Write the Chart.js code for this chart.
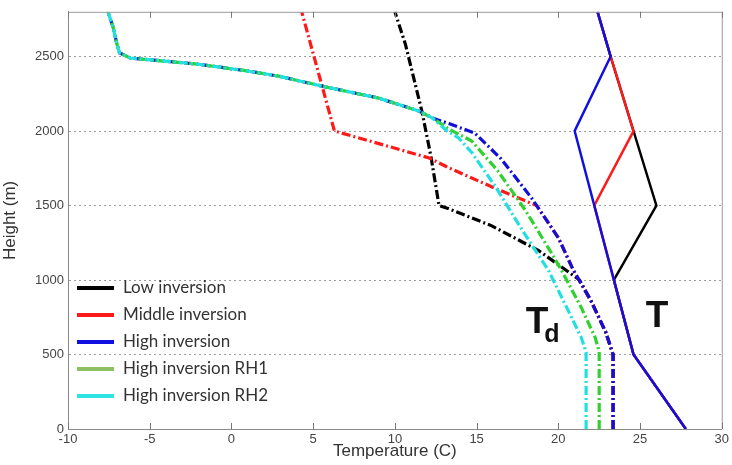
<!DOCTYPE html>
<html>
<head>
<meta charset="utf-8">
<script src="https://cdn.jsdelivr.net/npm/chart.js@4.4.0/dist/chart.umd.min.js"></script>
<style>
  html, body { margin: 0; padding: 0; background: #fff; }
  #wrap { width: 732px; height: 465px; }
</style>
</head>
<body>
<div id="wrap"><canvas id="myChart" width="732" height="465"></canvas></div>
<script>
// Temperature profiles (solid)
const tHeights = [0, 500, 1000, 1500, 2000, 2500, 2800];
const tLow  = [27.8, 24.6, 23.4, 26.0, 24.6, 23.2, 22.4];
const tMid  = [27.8, 24.6, 23.4, 22.2, 24.6, 23.2, 22.4];
const tHigh = [27.8, 24.6, 23.4, 22.2, 21.0, 23.2, 22.4];

// Dew point profiles (dash-dot)
const topZ = [2134, 2221, 2301, 2368, 2401, 2448, 2490, 2525, 2580, 2700, 2800];
const topT = [11.46, 9.0, 5.55, 2.9, 1.1, -2.0, -6.2, -6.85, -7.0, -7.25, -7.56];

const tdHighZ = [0, 500, 650, 860, 1070, 1284, 1552, 1813, 1985, 2050, 2087].concat(topZ);
const tdHighT = [23.35, 23.35, 22.9, 22.0, 20.9, 20.0, 18.35, 16.5, 14.9, 13.3, 12.3].concat(topT);

const tdRh1Z = [0, 520, 615, 816, 1064, 1177, 1465, 1732, 1933, 2013, 2087].concat(topZ);
const tdRh1T = [22.5, 22.5, 22.25, 21.4, 20.2, 19.6, 18.0, 16.3, 14.7, 13.3, 12.3].concat(topT);

const tdRh2Z = [0, 515, 615, 796, 1064, 1351, 1619, 1856, 1953, 2000, 2087].concat(topZ);
const tdRh2T = [21.7, 21.7, 21.4, 20.6, 19.4, 17.7, 16.2, 14.7, 13.9, 13.2, 12.3].concat(topT);

const tdLowZ = [0, 500, 650, 860, 1000, 1197, 1365, 1478, 1500, 1833, 2134, 2580, 2800];
const tdLowT = [23.35, 23.35, 22.9, 22.0, 21.3, 18.8, 15.9, 13.3, 12.7, 12.2, 11.65, 10.65, 10.0];

const tdMidZ = [0, 500, 650, 860, 1070, 1284, 1500, 1612, 1753, 1819, 2000, 2800];
const tdMidT = [23.35, 23.35, 22.9, 22.0, 20.9, 20.0, 18.67, 16.2, 13.3, 12.1, 6.3, 4.3];

const legendLabels = ['Low inversion', 'Middle inversion', 'High inversion', 'High inversion RH1', 'High inversion RH2'];
const legendColors = ['#000000', '#ff1a1a', '#1010e0', '#8cc062', '#2ee3e3'];

const xTicks = [-10, -5, 0, 5, 10, 15, 20, 25, 30];
const yTicks = [0, 500, 1000, 1500, 2000, 2500];

function pts(xs, zs) {
  return xs.map(function(v, i) { return { x: v, y: zs[i] }; });
}

const dashDot = [9, 3, 2, 3];

function tdSet(xs, zs, color) {
  return {
    data: pts(xs, zs), borderColor: color, borderWidth: 3.2,
    borderDash: dashDot, pointRadius: 0, tension: 0, fill: false
  };
}
function tSet(xs, zs, color) {
  return {
    data: pts(xs, zs), borderColor: color, borderWidth: 2.5,
    pointRadius: 0, tension: 0, fill: false
  };
}

// index 0 is drawn on top
const datasets = [
  tSet(tHigh, tHeights, '#1010e0'),
  tSet(tMid, tHeights, '#ff1a1a'),
  tSet(tLow, tHeights, '#000000'),
  tdSet(tdRh2T, tdRh2Z, '#22e0e0'),
  tdSet(tdRh1T, tdRh1Z, '#2ed12e'),
  tdSet(tdHighT, tdHighZ, '#1010d8'),
  tdSet(tdMidT, tdMidZ, '#ff1a1a'),
  tdSet(tdLowT, tdLowZ, '#000000')
];

// frame, inward ticks, legend box and T / Td labels
const extras = {
  id: 'extras',
  afterDraw(chart) {
    const c = chart.ctx, a = chart.chartArea;
    const xs = chart.scales.x, ys = chart.scales.y;
    c.save();
    c.strokeStyle = '#9a9a9a';
    c.lineWidth = 1;
    c.beginPath();
    c.moveTo(a.left, a.top + 0.5); c.lineTo(a.right + 0.5, a.top + 0.5);
    c.lineTo(a.right + 0.5, a.bottom);
    c.stroke();
    c.strokeStyle = '#777';
    xTicks.forEach(function(v) {
      const px = Math.round(xs.getPixelForValue(v)) + 0.5;
      c.beginPath();
      c.moveTo(px, a.bottom); c.lineTo(px, a.bottom - 6);
      c.moveTo(px, a.top); c.lineTo(px, a.top + 6);
      c.stroke();
    });

    // legend
    c.font = '17px Lato';
    c.textBaseline = 'middle';
    legendLabels.forEach(function(lab, i) {
      const y = a.bottom - 141 + i * 27;
      c.fillStyle = legendColors[i];
      c.fillRect(a.left + 9, y - 2, 37, 4);
      c.fillStyle = '#333';
      c.fillText(lab, a.left + 55, y);
    });

    // T_d and T
    c.fillStyle = '#111';
    c.textBaseline = 'alphabetic';
    c.font = 'bold 37px "Liberation Sans"';
    const tdX = xs.getPixelForValue(18.0), tdY = ys.getPixelForValue(642);
    c.fillText('T', tdX, tdY);
    const w = c.measureText('T').width;
    c.font = 'bold 25px "Liberation Sans"';
    c.fillText('d', tdX + w - 4, tdY + 9);
    c.font = 'bold 37px "Liberation Sans"';
    c.fillText('T', xs.getPixelForValue(25.35), ys.getPixelForValue(682));
    c.restore();
  }
};

const tickFont = { family: '"Liberation Sans"', size: 13 };
const ctx = document.getElementById('myChart').getContext('2d');
const myChart = new Chart(ctx, {
  type: 'line',
  data: { datasets: datasets },
  options: {
    responsive: false,
    animation: false,
    layout: { padding: { top: 11, right: 8, left: 0, bottom: 0 } },
    plugins: { legend: { display: false }, tooltip: { enabled: false } },
    scales: {
      x: {
        type: 'linear', min: -10, max: 30,
        ticks: { stepSize: 5, font: tickFont, color: '#444', padding: 3, maxRotation: 0,
                 callback: function(v) { return String(v); } },
        grid: { display: false, drawTicks: false },
        border: { color: '#8a8a8a' },
        title: { display: true, text: 'Temperature (C)', color: '#333',
                 font: { family: '"Liberation Sans"', size: 17 }, padding: { top: 0, bottom: 3 } },
        afterFit: function(s) { s.height = 36; }
      },
      y: {
        type: 'linear', min: 0, max: 2800,
        ticks: { font: tickFont, color: '#444', padding: 4, autoSkip: false,
                 callback: function(v) { return String(v); } },
        afterBuildTicks: function(s) { s.ticks = yTicks.map(function(v) { return { value: v }; }); },
        grid: { color: '#9d9d9d', drawTicks: false },
        border: { color: '#8a8a8a', dash: [2, 3] },
        title: { display: true, text: 'Height (m)', color: '#333',
                 font: { family: '"Liberation Sans"', size: 17 }, padding: { top: 0, bottom: 6 } },
        afterFit: function(s) { s.width = 68; }
      }
    }
  },
  plugins: [extras]
});
</script>
</body>
</html>
